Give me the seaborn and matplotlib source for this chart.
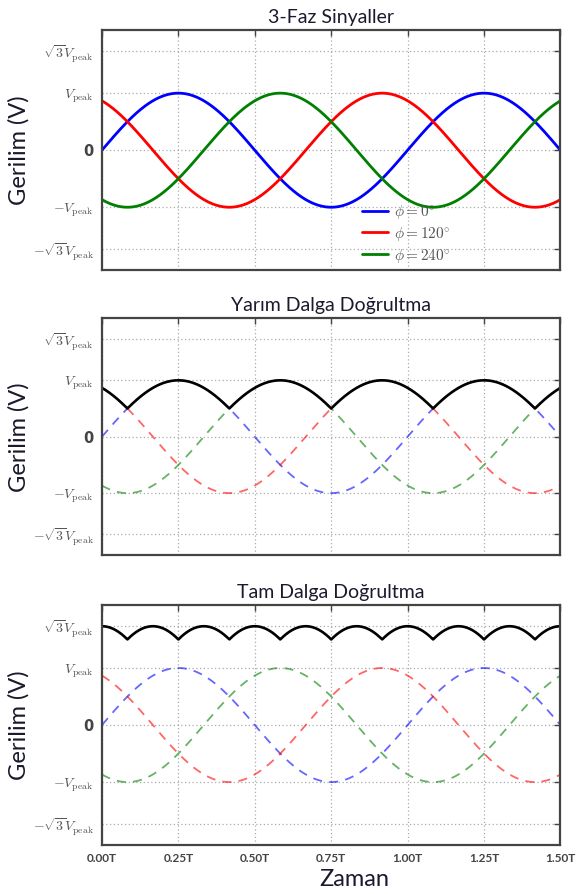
import numpy as np
import pandas as pd
import matplotlib
matplotlib.use("Agg")
import matplotlib.pyplot as plt
import seaborn as sns

# Phase angles of the three supply phases (degrees) and their colours
phases_deg = [0, 120, 240]
phase_colors = ["#0000ff", "#ff0000", "#008000"]
phase_labels = [r"$\phi = 0^{\circ}$", r"$\phi = 120^{\circ}$", r"$\phi = 240^{\circ}$"]

# Axis ticks
x_ticks = [0.0, 0.25, 0.5, 0.75, 1.0, 1.25, 1.5]
x_tick_labels = ["0.00T", "0.25T", "0.50T", "0.75T", "1.00T", "1.25T", "1.50T"]
y_ticks = [-np.sqrt(3), -1.0, 0.0, 1.0, np.sqrt(3)]
y_tick_labels = [r"$-\sqrt{3}V_{\rm peak}$", r"$-V_{\rm peak}$", "0",
                 r"$V_{\rm peak}$", r"$\sqrt{3}V_{\rm peak}$"]
titles = ["3-Faz Sinyaller", "Yarım Dalga Doğrultma", "Tam Dalga Doğrultma"]

sns.set_theme(style="white")
plt.rcParams["font.family"] = ["Lato", "DejaVu Sans"]
plt.rcParams["mathtext.fontset"] = "cm"

t = np.linspace(0, 1.5, 1501)
rows = []
for ph, lab in zip(phases_deg, phase_labels):
    v = np.sin(2 * np.pi * t + np.deg2rad(ph))
    rows.append(pd.DataFrame({"t": t, "v": v, "phase": lab}))
df = pd.concat(rows, ignore_index=True)
wide = df.pivot(index="t", columns="phase", values="v")
half = pd.DataFrame({"t": wide.index, "v": wide.max(axis=1).values})
full = pd.DataFrame({"t": wide.index, "v": (wide.max(axis=1) - wide.min(axis=1)).values})

fig = plt.figure(figsize=(5.76, 8.94), dpi=100)
boxes = [(0.177, 0.698, 0.796, 0.268),
         (0.177, 0.379, 0.796, 0.265),
         (0.177, 0.055, 0.796, 0.268)]
palette = dict(zip(phase_labels, phase_colors))
text_color = "#1a1a2e"

for i, box in enumerate(boxes):
    ax = fig.add_axes(box)
    if i == 0:
        sns.lineplot(data=df, x="t", y="v", hue="phase", palette=palette,
                     hue_order=phase_labels, linewidth=2.0, ax=ax, sort=False)
        leg = ax.legend(loc="lower right", bbox_to_anchor=(0.79, -0.035),
                        frameon=False, fontsize=11, handlelength=1.7,
                        labelspacing=0.25, handletextpad=0.4)
        for txt in leg.get_texts():
            txt.set_color("#555555")
    else:
        sns.lineplot(data=df, x="t", y="v", hue="phase", palette=palette,
                     hue_order=phase_labels, linewidth=1.3, ax=ax, sort=False,
                     alpha=0.6, legend=False)
        for line in ax.get_lines():
            line.set_linestyle((0, (5, 4)))
        src = half if i == 1 else full
        sns.lineplot(data=src, x="t", y="v", color="black", linewidth=1.9,
                     ax=ax, sort=False)
    ax.set_xlim(0, 1.5)
    ax.set_ylim(-2.1, 2.1)
    ax.set_xticks(x_ticks)
    ax.set_yticks(y_ticks)
    ax.set_yticklabels(y_tick_labels, fontsize=10, color="#555555")
    if i == 2:
        ax.set_xticklabels(x_tick_labels, fontsize=8.5, color="#444444",
                           fontweight="bold")
        ax.set_xlabel("Zaman", fontsize=17, color=text_color, labelpad=4)
        ax.xaxis.set_label_coords(0.55, -0.1)
    else:
        ax.set_xticklabels([])
        ax.set_xlabel("")
    ax.set_ylabel("Gerilim (V)", fontsize=17, color=text_color, labelpad=2)
    ax.set_title(titles[i], fontsize=14, color=text_color, pad=5)
    ax.grid(True, linestyle=(0, (1, 2)), color="#aaaaaa", linewidth=0.9)
    for sp in ax.spines.values():
        sp.set_color("#444444")
        sp.set_linewidth(1.6)
    ax.tick_params(axis="both", direction="in", length=4, color="#444444",
                   width=1.0, top=True, right=True, pad=6)
    for lbl in ax.get_yticklabels():
        if lbl.get_text() == "0":
            lbl.set_fontweight("bold")
            lbl.set_fontsize(10.5)
            lbl.set_fontfamily(["DejaVu Sans"])
            lbl.set_color("#444444")

fig.savefig("out.png", dpi=100)
